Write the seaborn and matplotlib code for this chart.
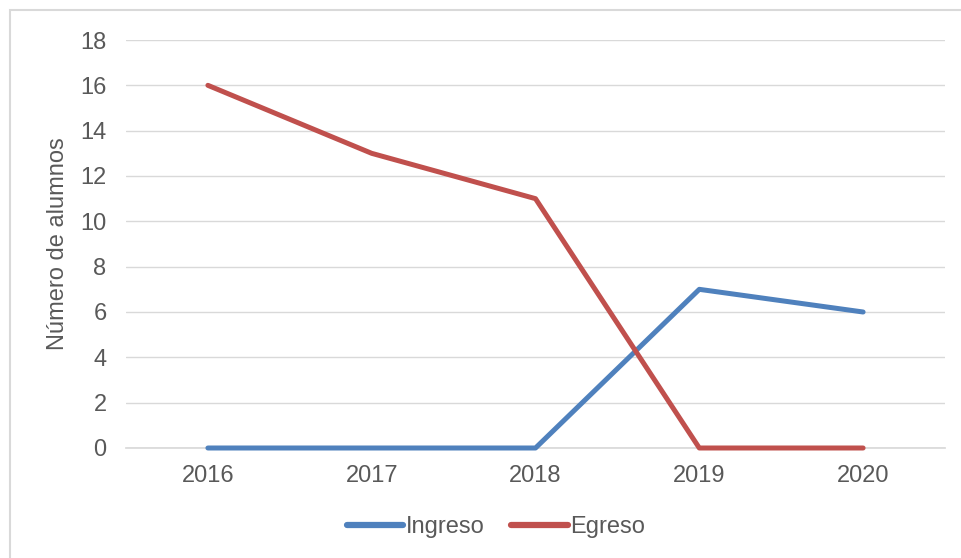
import matplotlib
matplotlib.use('Agg')
import matplotlib.pyplot as plt
import pandas as pd
import seaborn as sns
from matplotlib.patches import Rectangle

# values
years = ['2016', '2017', '2018', '2019', '2020']
ingreso = [0, 0, 0, 7, 6]
egreso = [16, 13, 11, 0, 0]

df = pd.DataFrame({'Año': years, 'Ingreso': ingreso, 'Egreso': egreso})
melted = df.melt(id_vars='Año', var_name='Serie', value_name='Alumnos')

sns.set_theme(style='white')
plt.rcParams['font.family'] = ['Liberation Sans', 'DejaVu Sans']

fig = plt.figure(figsize=(9.61, 5.58), dpi=100)
ax = fig.add_axes([126 / 961, 1 - 448 / 558, (945 - 126) / 961, (448 - 40) / 558])

sns.lineplot(data=melted, x='Año', y='Alumnos', hue='Serie', sort=False,
             palette={'Ingreso': '#4F81BD', 'Egreso': '#C0504D'},
             linewidth=3.6, ax=ax)
# keep the zero-level lines whole and above the axis line
for line in ax.get_lines():
    line.set_clip_on(False)
    line.set_zorder(3)
    line.set_solid_capstyle('round')

ax.set_xlim(-0.5, 4.5)
ax.set_ylim(0, 18)
ax.set_yticks(range(0, 19, 2))
ax.grid(axis='y', color='#d9d9d9', linewidth=1)
ax.set_axisbelow(True)
for s in ['top', 'right', 'left']:
    ax.spines[s].set_visible(False)
ax.spines['bottom'].set_color('#d9d9d9')
ax.tick_params(axis='y', length=0, pad=14, labelsize=17, labelcolor='#595959')
ax.tick_params(axis='x', length=0, pad=12, labelsize=17, labelcolor='#595959')
ax.set_xlabel('')
ax.set_ylabel('Número de alumnos', fontsize=17, color='#595959', labelpad=8)

leg = ax.legend(loc='center', bbox_to_anchor=(496 / 961, 1 - 527 / 558), bbox_transform=fig.transFigure,
                ncol=2, frameon=False, fontsize=17, handlelength=2.4, handletextpad=0.12,
                columnspacing=1.1)
for t in leg.get_texts():
    t.set_color('#595959')
for h in leg.get_lines():
    h.set_linewidth(4.5)
    h.set_solid_capstyle('round')

# light chart border like the original
fig.patches.append(Rectangle((10 / 961, -0.1), 1.2, 1 - 10 / 558 + 0.1, transform=fig.transFigure,
                             fill=False, edgecolor='#d9d9d9', linewidth=1.5))

fig.savefig('out.png', dpi=100)
